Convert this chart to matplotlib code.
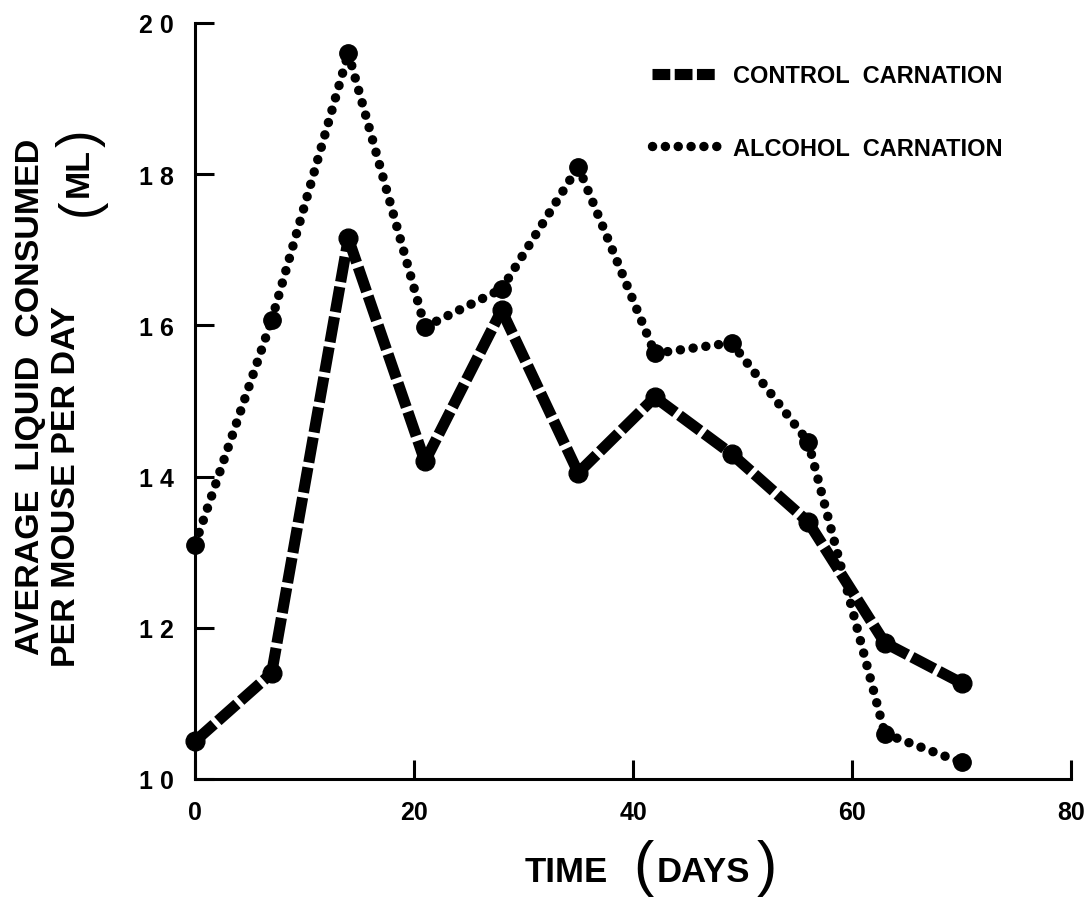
import matplotlib
matplotlib.use("Agg")
import matplotlib.pyplot as plt
from matplotlib.lines import Line2D

# weekly readings, ml per mouse per day
days = [0, 7, 14, 21, 28, 35, 42, 49, 56, 63, 70]
control = [10.5, 11.4, 17.15, 14.2, 16.2, 14.05, 15.05, 14.3, 13.4, 11.8, 11.27]
alcohol = [13.1, 16.07, 19.6, 15.98, 16.48, 18.1, 15.63, 15.77, 14.46, 10.6, 10.22]

x_ticks = [0, 20, 40, 60, 80]
y_ticks = [10, 12, 14, 16, 18, 20]
y_tick_labels = ["1 0", "1 2", "1 4", "1 6", "1 8", "2 0"]

plt.rcParams['font.family'] = ['Liberation Sans', 'DejaVu Sans']
plt.rcParams['font.weight'] = 'bold'

W, H = 1091, 903
fig = plt.figure(figsize=(W / 100, H / 100), dpi=100)
ax = fig.add_axes([195 / W, 1 - 780 / H, (1071 - 195) / W, (780 - 24) / H])

# styles for the two series
ctrl_style = dict(color='black', lw=8, dashes=(2.3, 0.45), dash_capstyle='butt',
                  solid_capstyle='butt')
alc_style = dict(color='black', lw=6.8, dashes=(0.01, 1.35), dash_capstyle='round')

# each segment drawn on its own so the pattern restarts at every point
for i in range(len(days) - 1):
    ax.plot(days[i:i + 2], alcohol[i:i + 2], clip_on=False, **alc_style)
    ax.plot(days[i:i + 2], control[i:i + 2], clip_on=False, **ctrl_style)

ax.plot(days, alcohol, 'o', color='black', ms=12.5, clip_on=False, zorder=3)
ax.plot(days, control, 'o', color='black', ms=13.5, clip_on=False, zorder=3)

ax.set_xlim(0, 80)
ax.set_ylim(10, 20)
ax.set_xticks(x_ticks)
ax.set_xticklabels([str(t) for t in x_ticks])
ax.set_yticks(y_ticks)
ax.set_yticklabels(y_tick_labels)

for side in ['top', 'right']:
    ax.spines[side].set_visible(False)
for side in ['left', 'bottom']:
    ax.spines[side].set_linewidth(2.2)

ax.tick_params(axis='both', direction='in', length=14, width=2.2)
ax.tick_params(axis='y', pad=15, labelsize=18)
ax.tick_params(axis='x', pad=15, labelsize=18)
for lab in ax.get_xticklabels() + ax.get_yticklabels():
    lab.set_fontweight('bold')

# legend with short samples of each line style
handles = [
    Line2D([], [], color='black', lw=8, dashes=(1.6, 0.4), dash_capstyle='butt'),
    Line2D([], [], color='black', lw=6.8, dashes=(0.01, 1.35), dash_capstyle='round'),
]
ax.legend(handles, ["CONTROL  CARNATION", "ALCOHOL  CARNATION"],
          loc='upper left', bbox_to_anchor=(652 / W, 1 - 65 / H),
          bbox_transform=fig.transFigure, frameon=False,
          handlelength=2.75, handletextpad=0.7, labelspacing=2.1,
          borderpad=0, borderaxespad=0, prop={'weight': 'bold', 'size': 17})


def fx(px):
    return px / W


def fy(py):
    return 1 - py / H


# axis titles
fig.text(fx(566), fy(882), "TIME", fontsize=25, fontweight='bold',
         ha='center', va='baseline')
fig.text(fx(703), fy(882), "DAYS", fontsize=25, fontweight='bold',
         ha='center', va='baseline')
fig.text(fx(643), fy(884), "(", fontsize=44, fontweight='light',
         ha='center', va='baseline')
fig.text(fx(767), fy(884), ")", fontsize=44, fontweight='light',
         ha='center', va='baseline')

fig.text(fx(31), fy(397), "AVERAGE  LIQUID  CONSUMED", fontsize=24.5,
         fontweight='bold', rotation=90, ha='center', va='center')
fig.text(fx(67), fy(667), "PER MOUSE PER DAY", fontsize=24.5,
         fontweight='bold', rotation=90, ha='center', va='bottom')
fig.text(fx(79), fy(173), "ML", fontsize=24.5, fontweight='bold',
         rotation=90, ha='center', va='center')
fig.text(fx(81), fy(207), "(", fontsize=38, fontweight='light',
         rotation=90, ha='center', va='center')
fig.text(fx(81), fy(138), ")", fontsize=38, fontweight='light',
         rotation=90, ha='center', va='center')

fig.savefig("out.png", dpi=100, facecolor='white')
